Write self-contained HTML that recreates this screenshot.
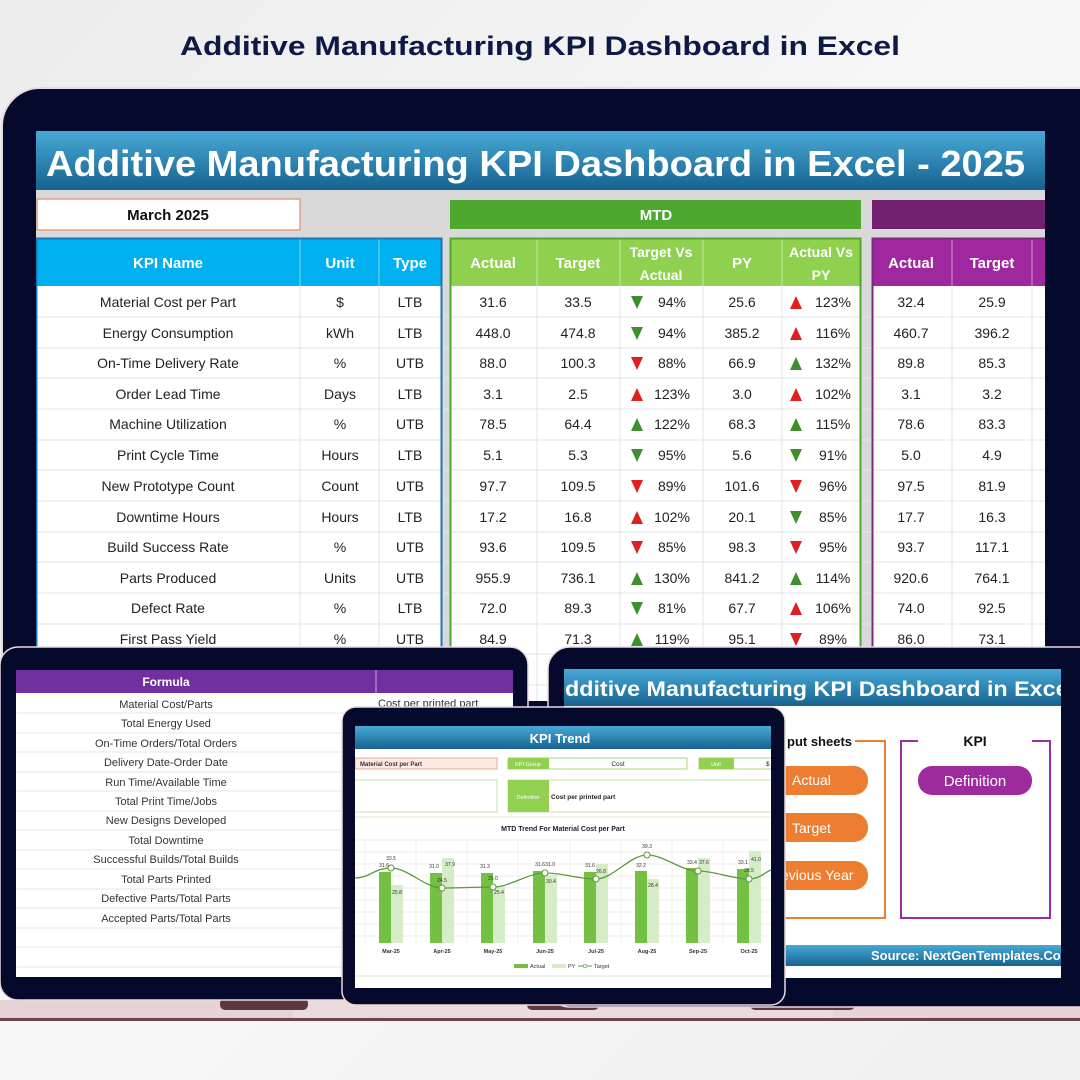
<!DOCTYPE html>
<html><head><meta charset="utf-8"><style>
html,body{margin:0;padding:0;width:1080px;height:1080px;overflow:hidden;background:#f3f3f3}
svg{display:block}
text{font-family:"Liberation Sans",sans-serif}
</style></head><body>
<svg width="1080" height="1080" viewBox="0 0 1080 1080" xmlns="http://www.w3.org/2000/svg">
<defs>
<linearGradient id="bn" x1="0" y1="0" x2="0" y2="1"><stop offset="0" stop-color="#48a9d6"/><stop offset="1" stop-color="#16628f"/></linearGradient>
<linearGradient id="bg" x1="0" y1="0" x2="1" y2="1"><stop offset="0" stop-color="#ececec"/><stop offset="0.5" stop-color="#f7f7f7"/><stop offset="1" stop-color="#efefef"/></linearGradient>
<clipPath id="cTop"><rect x="36" y="131" width="1009" height="570"/></clipPath>
<clipPath id="cR"><rect x="564" y="669" width="497" height="309"/></clipPath>
<clipPath id="cC"><rect x="355" y="726" width="416" height="262"/></clipPath>
</defs>
<rect width="1080" height="1080" fill="url(#bg)"/>
<text x="540" y="55" text-anchor="middle" font-size="27" font-weight="bold" fill="#0e1a46" textLength="720" lengthAdjust="spacingAndGlyphs">Additive Manufacturing KPI Dashboard in Excel</text>

<!-- base strip -->
<rect x="0" y="1000" width="1080" height="18" fill="#e6d3d6"/>
<rect x="293" y="1000" width="540" height="20" fill="#eadcde"/>
<rect x="0" y="1018" width="1080" height="3" fill="#6a4448"/>
<rect x="220" y="998" width="88" height="12" rx="5" fill="#5e383c"/>
<rect x="527" y="998" width="72" height="12" rx="5" fill="#5e383c"/>
<rect x="750" y="998" width="105" height="12" rx="5" fill="#5e383c"/>

<!-- big laptop -->
<rect x="2" y="88" width="1140" height="640" rx="38" fill="#050a2c" stroke="#e9dadd" stroke-width="2"/>
<g clip-path="url(#cTop)">
<rect x="36" y="131" width="1009" height="570" fill="#d9d9d9"/>
<rect x="36" y="131" width="1009" height="59" fill="url(#bn)"/>
<text x="46" y="176" font-size="36" font-weight="bold" fill="#fff" textLength="979" lengthAdjust="spacingAndGlyphs">Additive Manufacturing KPI Dashboard in Excel - 2025</text>
<rect x="37" y="199" width="263" height="31" fill="#fff" stroke="#e0a080" stroke-width="1.5"/>
<text x="168" y="220" text-anchor="middle" font-size="15" font-weight="bold" fill="#111">March 2025</text>
<rect x="450" y="200" width="411" height="29" fill="#4ea72e"/>
<text x="656" y="220" text-anchor="middle" font-size="15" font-weight="bold" fill="#fff">MTD</text>
<rect x="872" y="200" width="180" height="29" fill="#712070"/>
<rect x="36" y="238" width="406" height="470" fill="#fff"/>
<rect x="450" y="238" width="411" height="470" fill="#fff"/>
<rect x="872" y="238" width="180" height="470" fill="#fff"/>
<rect x="36" y="238" width="406" height="48" fill="#00b0f0"/>
<rect x="450" y="238" width="411" height="48" fill="#8fd14f"/>
<rect x="872" y="238" width="180" height="48" fill="#a0289e"/>
<g stroke="#ffffff" stroke-opacity="0.5" stroke-width="1">
<line x1="300" y1="238" x2="300" y2="286"/><line x1="379" y1="238" x2="379" y2="286"/>
<line x1="537" y1="238" x2="537" y2="286"/><line x1="620" y1="238" x2="620" y2="286"/><line x1="703" y1="238" x2="703" y2="286"/><line x1="782" y1="238" x2="782" y2="286"/>
<line x1="952" y1="238" x2="952" y2="286"/><line x1="1032" y1="238" x2="1032" y2="286"/>
</g>
<g font-size="15" font-weight="bold" fill="#fff" text-anchor="middle">
<text x="168" y="268">KPI Name</text><text x="340" y="268">Unit</text><text x="410" y="268">Type</text>
<text x="493" y="268">Actual</text><text x="578" y="268">Target</text>
<text x="661" y="257" font-size="14">Target Vs</text><text x="661" y="280" font-size="14">Actual</text>
<text x="742" y="268">PY</text>
<text x="821" y="257" font-size="14">Actual Vs</text><text x="821" y="280" font-size="14">PY</text>
<text x="911" y="268">Actual</text><text x="992" y="268">Target</text>
</g>
<g stroke="#dfe4ea" stroke-width="1">
<line x1="36" y1="317" x2="1045" y2="317"/><line x1="36" y1="348" x2="1045" y2="348"/><line x1="36" y1="378" x2="1045" y2="378"/>
<line x1="36" y1="409" x2="1045" y2="409"/><line x1="36" y1="440" x2="1045" y2="440"/><line x1="36" y1="470" x2="1045" y2="470"/>
<line x1="36" y1="501" x2="1045" y2="501"/><line x1="36" y1="532" x2="1045" y2="532"/><line x1="36" y1="562" x2="1045" y2="562"/>
<line x1="36" y1="593" x2="1045" y2="593"/><line x1="36" y1="624" x2="1045" y2="624"/><line x1="36" y1="654" x2="1045" y2="654"/><line x1="36" y1="685" x2="1045" y2="685"/>
<line x1="300" y1="286" x2="300" y2="710"/><line x1="379" y1="286" x2="379" y2="710"/>
<line x1="537" y1="286" x2="537" y2="710"/><line x1="620" y1="286" x2="620" y2="710"/><line x1="703" y1="286" x2="703" y2="710"/><line x1="782" y1="286" x2="782" y2="710"/>
<line x1="952" y1="286" x2="952" y2="710"/><line x1="1032" y1="286" x2="1032" y2="710"/>
</g>
<rect x="36.5" y="238.5" width="405" height="480" fill="none" stroke="#1b78b8" stroke-width="2"/>
<rect x="450.5" y="238.5" width="410" height="480" fill="none" stroke="#4ea72e" stroke-width="2"/>
<rect x="872.5" y="238.5" width="190" height="480" fill="none" stroke="#7b2a7b" stroke-width="2"/>
<g font-size="14" fill="#222" text-anchor="middle">
<text x="168" y="307">Material Cost per Part</text><text x="340" y="307">$</text><text x="410" y="307">LTB</text><text x="493" y="307">31.6</text><text x="578" y="307">33.5</text><text x="672" y="307">94%</text><text x="742" y="307">25.6</text><text x="833" y="307">123%</text><text x="911" y="307">32.4</text><text x="992" y="307">25.9</text>
<text x="168" y="338">Energy Consumption</text><text x="340" y="338">kWh</text><text x="410" y="338">LTB</text><text x="493" y="338">448.0</text><text x="578" y="338">474.8</text><text x="672" y="338">94%</text><text x="742" y="338">385.2</text><text x="833" y="338">116%</text><text x="911" y="338">460.7</text><text x="992" y="338">396.2</text>
<text x="168" y="368">On-Time Delivery Rate</text><text x="340" y="368">%</text><text x="410" y="368">UTB</text><text x="493" y="368">88.0</text><text x="578" y="368">100.3</text><text x="672" y="368">88%</text><text x="742" y="368">66.9</text><text x="833" y="368">132%</text><text x="911" y="368">89.8</text><text x="992" y="368">85.3</text>
<text x="168" y="399">Order Lead Time</text><text x="340" y="399">Days</text><text x="410" y="399">LTB</text><text x="493" y="399">3.1</text><text x="578" y="399">2.5</text><text x="672" y="399">123%</text><text x="742" y="399">3.0</text><text x="833" y="399">102%</text><text x="911" y="399">3.1</text><text x="992" y="399">3.2</text>
<text x="168" y="429">Machine Utilization</text><text x="340" y="429">%</text><text x="410" y="429">UTB</text><text x="493" y="429">78.5</text><text x="578" y="429">64.4</text><text x="672" y="429">122%</text><text x="742" y="429">68.3</text><text x="833" y="429">115%</text><text x="911" y="429">78.6</text><text x="992" y="429">83.3</text>
<text x="168" y="460">Print Cycle Time</text><text x="340" y="460">Hours</text><text x="410" y="460">LTB</text><text x="493" y="460">5.1</text><text x="578" y="460">5.3</text><text x="672" y="460">95%</text><text x="742" y="460">5.6</text><text x="833" y="460">91%</text><text x="911" y="460">5.0</text><text x="992" y="460">4.9</text>
<text x="168" y="491">New Prototype Count</text><text x="340" y="491">Count</text><text x="410" y="491">UTB</text><text x="493" y="491">97.7</text><text x="578" y="491">109.5</text><text x="672" y="491">89%</text><text x="742" y="491">101.6</text><text x="833" y="491">96%</text><text x="911" y="491">97.5</text><text x="992" y="491">81.9</text>
<text x="168" y="522">Downtime Hours</text><text x="340" y="522">Hours</text><text x="410" y="522">LTB</text><text x="493" y="522">17.2</text><text x="578" y="522">16.8</text><text x="672" y="522">102%</text><text x="742" y="522">20.1</text><text x="833" y="522">85%</text><text x="911" y="522">17.7</text><text x="992" y="522">16.3</text>
<text x="168" y="552">Build Success Rate</text><text x="340" y="552">%</text><text x="410" y="552">UTB</text><text x="493" y="552">93.6</text><text x="578" y="552">109.5</text><text x="672" y="552">85%</text><text x="742" y="552">98.3</text><text x="833" y="552">95%</text><text x="911" y="552">93.7</text><text x="992" y="552">117.1</text>
<text x="168" y="583">Parts Produced</text><text x="340" y="583">Units</text><text x="410" y="583">UTB</text><text x="493" y="583">955.9</text><text x="578" y="583">736.1</text><text x="672" y="583">130%</text><text x="742" y="583">841.2</text><text x="833" y="583">114%</text><text x="911" y="583">920.6</text><text x="992" y="583">764.1</text>
<text x="168" y="613">Defect Rate</text><text x="340" y="613">%</text><text x="410" y="613">LTB</text><text x="493" y="613">72.0</text><text x="578" y="613">89.3</text><text x="672" y="613">81%</text><text x="742" y="613">67.7</text><text x="833" y="613">106%</text><text x="911" y="613">74.0</text><text x="992" y="613">92.5</text>
<text x="168" y="644">First Pass Yield</text><text x="340" y="644">%</text><text x="410" y="644">UTB</text><text x="493" y="644">84.9</text><text x="578" y="644">71.3</text><text x="672" y="644">119%</text><text x="742" y="644">95.1</text><text x="833" y="644">89%</text><text x="911" y="644">86.0</text><text x="992" y="644">73.1</text>
</g>
<g>
<path d="M631 296h12l-6 13z" fill="#3f8f2f"/><path d="M790 309h12l-6-13z" fill="#e02020"/>
<path d="M631 327h12l-6 13z" fill="#3f8f2f"/><path d="M790 340h12l-6-13z" fill="#e02020"/>
<path d="M631 357h12l-6 13z" fill="#e02020"/><path d="M790 370h12l-6-13z" fill="#3f8f2f"/>
<path d="M631 401h12l-6-13z" fill="#e02020"/><path d="M790 401h12l-6-13z" fill="#e02020"/>
<path d="M631 431h12l-6-13z" fill="#3f8f2f"/><path d="M790 431h12l-6-13z" fill="#3f8f2f"/>
<path d="M631 449h12l-6 13z" fill="#3f8f2f"/><path d="M790 449h12l-6 13z" fill="#3f8f2f"/>
<path d="M631 480h12l-6 13z" fill="#e02020"/><path d="M790 480h12l-6 13z" fill="#e02020"/>
<path d="M631 524h12l-6-13z" fill="#e02020"/><path d="M790 511h12l-6 13z" fill="#3f8f2f"/>
<path d="M631 541h12l-6 13z" fill="#e02020"/><path d="M790 541h12l-6 13z" fill="#e02020"/>
<path d="M631 585h12l-6-13z" fill="#3f8f2f"/><path d="M790 585h12l-6-13z" fill="#3f8f2f"/>
<path d="M631 602h12l-6 13z" fill="#3f8f2f"/><path d="M790 615h12l-6-13z" fill="#e02020"/>
<path d="M631 646h12l-6-13z" fill="#3f8f2f"/><path d="M790 633h12l-6 13z" fill="#e02020"/>
</g>
</g>

<!-- lower right laptop -->
<rect x="548" y="647" width="560" height="360" rx="22" fill="#050a2c" stroke="#e9dadd" stroke-width="1.5"/>
<g clip-path="url(#cR)">
<rect x="564" y="669" width="497" height="309" fill="#fff"/>
<rect x="564" y="669" width="497" height="37" fill="url(#bn)"/>
<text x="565" y="696" font-size="21" font-weight="bold" fill="#fff" textLength="510" lengthAdjust="spacingAndGlyphs">dditive Manufacturing KPI Dashboard in Excel</text>
<g fill="none" stroke="#ed7d31" stroke-width="2"><path d="M855 741H885V918H760"/></g>
<text x="787" y="746" font-size="13" font-weight="bold" fill="#111">put sheets</text>
<g fill="none" stroke="#9b2f9b" stroke-width="2"><path d="M918 741H901V918H1050V741H1032"/></g>
<text x="975" y="746" font-size="14" font-weight="bold" fill="#111" text-anchor="middle">KPI</text>
<rect x="740" y="766" width="128" height="29" rx="14" fill="#ed7d31"/>
<rect x="740" y="813" width="128" height="29" rx="14" fill="#ed7d31"/>
<rect x="740" y="861" width="128" height="29" rx="14" fill="#ed7d31"/>
<g font-size="14" fill="#fff"><text x="792" y="785">Actual</text><text x="792" y="833">Target</text><text x="781" y="880">evious Year</text></g>
<rect x="918" y="766" width="114" height="29" rx="14" fill="#9e2b9e"/>
<text x="975" y="786" font-size="15" fill="#fff" text-anchor="middle">Definition</text>
<rect x="564" y="945" width="497" height="21" fill="url(#bn)"/>
<text x="871" y="960" font-size="13" font-weight="bold" fill="#fff">Source: NextGenTemplates.Com</text>
</g>

<!-- lower left laptop -->
<rect x="0" y="647" width="528" height="353" rx="18" fill="#050a2c" stroke="#e9dadd" stroke-width="1.5"/>
<rect x="16" y="670" width="497" height="307" fill="#fff"/>
<rect x="16" y="670" width="497" height="23" fill="#7030a0"/>
<line x1="376" y1="670" x2="376" y2="693" stroke="#fff" stroke-opacity="0.6"/>
<text x="166" y="686" font-size="12" font-weight="bold" fill="#fff" text-anchor="middle">Formula</text>
<g stroke="#e6e6e6"><line x1="16" y1="713" x2="513" y2="713"/><line x1="16" y1="733" x2="513" y2="733"/><line x1="16" y1="752" x2="513" y2="752"/><line x1="16" y1="772" x2="513" y2="772"/><line x1="16" y1="791" x2="513" y2="791"/><line x1="16" y1="811" x2="513" y2="811"/><line x1="16" y1="830" x2="513" y2="830"/><line x1="16" y1="850" x2="513" y2="850"/><line x1="16" y1="869" x2="513" y2="869"/><line x1="16" y1="889" x2="513" y2="889"/><line x1="16" y1="908" x2="513" y2="908"/><line x1="16" y1="928" x2="513" y2="928"/><line x1="16" y1="947" x2="513" y2="947"/><line x1="16" y1="967" x2="513" y2="967"/></g>
<g font-size="11" fill="#333" text-anchor="middle">
<text x="166" y="708">Material Cost/Parts</text><text x="166" y="727">Total Energy Used</text><text x="166" y="747">On-Time Orders/Total Orders</text><text x="166" y="766">Delivery Date-Order Date</text><text x="166" y="786">Run Time/Available Time</text><text x="166" y="805">Total Print Time/Jobs</text><text x="166" y="824">New Designs Developed</text><text x="166" y="844">Total Downtime</text><text x="166" y="863">Successful Builds/Total Builds</text><text x="166" y="883">Total Parts Printed</text><text x="166" y="902">Defective Parts/Total Parts</text><text x="166" y="922">Accepted Parts/Total Parts</text>
</g>
<text x="378" y="707" font-size="11" fill="#333">Cost per printed part</text>

<!-- center laptop -->
<rect x="342" y="707" width="443" height="298" rx="14" fill="#050a2c" stroke="#e9dadd" stroke-width="1.5"/>
<g clip-path="url(#cC)">
<rect x="355" y="726" width="416" height="262" fill="#fff"/>
<rect x="355" y="726" width="416" height="23" fill="url(#bn)"/>
<text x="560" y="743" font-size="13" font-weight="bold" fill="#fff" text-anchor="middle">KPI Trend</text>
<rect x="355" y="758" width="142" height="11" fill="#fde9e3" stroke="#e0947e" stroke-width="0.8"/>
<text x="360" y="766" font-size="6" font-weight="bold" fill="#333">Material Cost per Part</text>
<rect x="508" y="758" width="179" height="11" fill="#fff" stroke="#92d050" stroke-width="0.8"/>
<rect x="508" y="758" width="41" height="11" fill="#92d050"/>
<text x="528" y="766" font-size="5.5" fill="#fff" text-anchor="middle">KPI Group</text>
<text x="618" y="766" font-size="6.5" fill="#222" text-anchor="middle">Cost</text>
<rect x="699" y="758" width="80" height="11" fill="#fff" stroke="#92d050" stroke-width="0.8"/>
<rect x="699" y="758" width="35" height="11" fill="#92d050"/>
<text x="716" y="766" font-size="5.5" fill="#fff" text-anchor="middle">Unit</text>
<text x="766" y="766" font-size="6.5" fill="#222">$</text>
<rect x="350" y="780" width="147" height="32" fill="#fff" stroke="#b6d9a0" stroke-width="0.8"/>
<rect x="508" y="780" width="270" height="32" fill="#fff" stroke="#b6d9a0" stroke-width="0.8"/>
<rect x="508" y="780" width="41" height="32" fill="#92d050"/>
<text x="528" y="799" font-size="5.5" fill="#fff" text-anchor="middle">Definition</text>
<text x="551" y="799" font-size="6.5" font-weight="bold" fill="#222">Cost per printed part</text>
<line x1="355" y1="817" x2="771" y2="817" stroke="#d8e8cc"/>
<text x="563" y="831" font-size="7" font-weight="bold" fill="#222" text-anchor="middle">MTD Trend For Material Cost per Part</text>
<g stroke="#e8e8e8" stroke-width="0.7">
<line x1="355" y1="840" x2="771" y2="840"/><line x1="355" y1="852" x2="771" y2="852"/><line x1="355" y1="864" x2="771" y2="864"/><line x1="355" y1="876" x2="771" y2="876"/><line x1="355" y1="888" x2="771" y2="888"/><line x1="355" y1="900" x2="771" y2="900"/><line x1="355" y1="912" x2="771" y2="912"/><line x1="355" y1="924" x2="771" y2="924"/><line x1="355" y1="936" x2="771" y2="936"/>
<line x1="365" y1="840" x2="365" y2="943"/><line x1="416" y1="840" x2="416" y2="943"/><line x1="467" y1="840" x2="467" y2="943"/><line x1="518" y1="840" x2="518" y2="943"/><line x1="570" y1="840" x2="570" y2="943"/><line x1="621" y1="840" x2="621" y2="943"/><line x1="672" y1="840" x2="672" y2="943"/><line x1="723" y1="840" x2="723" y2="943"/>
</g>
<g fill="#74c043">
<rect x="379" y="872" width="12" height="71"/><rect x="430" y="873" width="12" height="70"/><rect x="481" y="873" width="12" height="70"/><rect x="533" y="871" width="12" height="72"/><rect x="584" y="872" width="12" height="71"/><rect x="635" y="871" width="12" height="72"/><rect x="686" y="868" width="12" height="75"/><rect x="737" y="869" width="12" height="74"/>
</g>
<g fill="#d5ecc6">
<rect x="391" y="885" width="12" height="58"/><rect x="442" y="858" width="12" height="85"/><rect x="493" y="886" width="12" height="57"/><rect x="545" y="875" width="12" height="68"/><rect x="596" y="864" width="12" height="79"/><rect x="647" y="879" width="12" height="64"/><rect x="698" y="858" width="12" height="85"/><rect x="749" y="851" width="12" height="92"/>
</g>
<path d="M355 878C370 878 374 868 391 868C408 868 425 888 442 888C459 888 476 887 493 887C510 887 528 873 545 873C562 873 579 879 596 879C613 879 630 855 647 855C664 855 681 871 698 871C715 871 732 879 749 879C760 879 765 872 771 870" fill="none" stroke="#5a9a3a" stroke-width="1.3"/>
<g fill="#fff" stroke="#5a9a3a" stroke-width="1">
<circle cx="391" cy="868" r="3"/><circle cx="442" cy="888" r="3"/><circle cx="493" cy="887" r="3"/><circle cx="545" cy="873" r="3"/><circle cx="596" cy="879" r="3"/><circle cx="647" cy="855" r="3"/><circle cx="698" cy="871" r="3"/><circle cx="749" cy="879" r="3"/>
</g>
<g font-size="5" fill="#333" text-anchor="middle">
<text x="391" y="860">33.5</text><text x="384" y="867">31.6</text><text x="397" y="894">25.8</text>
<text x="434" y="868">31.0</text><text x="450" y="866">37.9</text><text x="442" y="882">24.5</text>
<text x="485" y="868">31.3</text><text x="493" y="880">25.0</text><text x="499" y="894">25.4</text>
<text x="540" y="866">31.6</text><text x="550" y="866">31.0</text><text x="551" y="883">30.4</text>
<text x="590" y="867">31.6</text><text x="601" y="873">26.8</text>
<text x="647" y="848">39.3</text><text x="641" y="867">32.2</text><text x="653" y="887">28.4</text>
<text x="692" y="864">33.4</text><text x="704" y="864">37.6</text>
<text x="743" y="864">33.1</text><text x="756" y="861">41.0</text><text x="749" y="872">28.5</text>
</g>
<g font-size="5.5" font-weight="bold" fill="#333" text-anchor="middle">
<text x="391" y="953">Mar-25</text><text x="442" y="953">Apr-25</text><text x="493" y="953">May-25</text><text x="545" y="953">Jun-25</text><text x="596" y="953">Jul-25</text><text x="647" y="953">Aug-25</text><text x="698" y="953">Sep-25</text><text x="749" y="953">Oct-25</text>
</g>
<rect x="514" y="964" width="14" height="4" fill="#74c043"/><text x="530" y="968" font-size="5.5" fill="#333">Actual</text>
<rect x="552" y="964" width="14" height="4" fill="#d5ecc6"/><text x="568" y="968" font-size="5.5" fill="#333">PY</text>
<line x1="578" y1="966" x2="592" y2="966" stroke="#5a9a3a"/><circle cx="585" cy="966" r="1.8" fill="#fff" stroke="#5a9a3a" stroke-width="0.7"/><text x="594" y="968" font-size="5.5" fill="#333">Target</text>
<line x1="355" y1="976" x2="771" y2="976" stroke="#d8e8cc"/>
</g>
</svg>
</body></html>
